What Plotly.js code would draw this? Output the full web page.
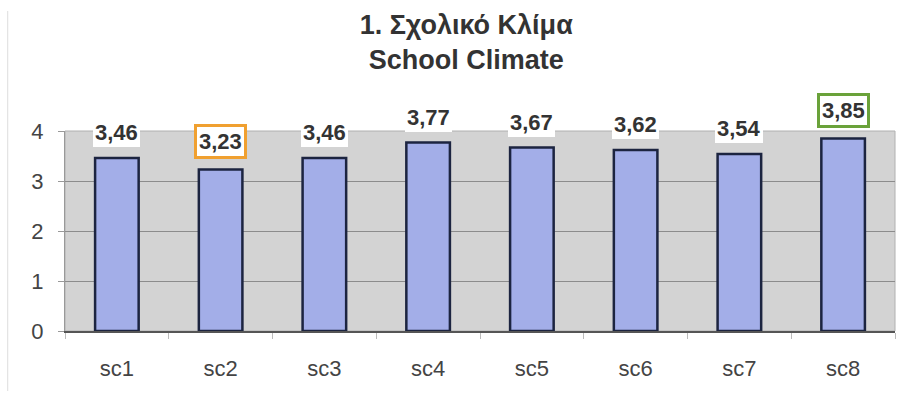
<!DOCTYPE html>
<html>
<head>
<meta charset="utf-8">
<script src="https://cdn.plot.ly/plotly-3.0.1.min.js"></script>
<style>html,body{margin:0;padding:0;background:#fff;}</style>
</head>
<body>
<div id="chart" style="width:900px;height:402px;"></div>
<script>
const categories = ['sc1','sc2','sc3','sc4','sc5','sc6','sc7','sc8'];
const values = [3.46, 3.23, 3.46, 3.77, 3.67, 3.62, 3.54, 3.85];
const labelBorders = ['', '#f0a030', '', '', '', '', '', '#6aa23a'];
const yTicks = [0, 1, 2, 3, 4];

const FONT = 'Liberation Sans, Arial, sans-serif';

const trace = {
  type: 'bar',
  x: categories,
  y: values,
  width: 0.42,
  marker: {color: '#a3aee8', line: {color: '#1c2440', width: 2.5}},
  hoverinfo: 'skip'
};

const annotations = categories.map((c, i) => ({
  x: c, y: values[i], xref: 'x', yref: 'y',
  text: values[i].toFixed(2).replace('.', ','),
  showarrow: false,
  yanchor: 'bottom',
  yshift: 11,
  font: {family: FONT, size: 22, color: '#333333', weight: 'bold'},
  bgcolor: '#ffffff',
  bordercolor: labelBorders[i] || 'rgba(0,0,0,0)',
  borderwidth: labelBorders[i] ? 3 : 0,
  borderpad: 2
}));

const layout = {
  width: 900, height: 402,
  margin: {l: 65, r: 5, t: 131, b: 71},
  paper_bgcolor: '#ffffff',
  plot_bgcolor: '#d3d3d3',
  showlegend: false,
  title: {
    text: '<b>1. Σχολικό Κλίμα<br>School Climate</b>',
    font: {family: FONT, size: 27, color: '#333333'},
    x: 0.518, xanchor: 'center', xref: 'container',
    y: 0.915, yanchor: 'top', yref: 'container'
  },
  xaxis: {
    type: 'category',
    tickson: 'boundaries',
    ticks: 'outside', ticklen: 6, tickcolor: '#bbbbbb',
    showline: true, linecolor: '#555555', linewidth: 1.5,
    showgrid: false,
    tickfont: {family: FONT, size: 22, color: '#444444'},
    ticklabelstandoff: 17
  },
  yaxis: {
    range: [0, 4],
    tickvals: yTicks,
    ticks: 'outside', ticklen: 6, tickcolor: '#999999',
    showline: true, linecolor: '#999999', linewidth: 1,
    showgrid: true, gridcolor: '#8c8c8c', gridwidth: 1,
    zeroline: false,
    tickfont: {family: FONT, size: 22, color: '#444444'},
    ticklabelstandoff: 10
  },
  shapes: [
    {type: 'rect', xref: 'paper', yref: 'paper', x0: 0, x1: 1, y0: 0, y1: 1,
     line: {color: '#b0b0b0', width: 1}, fillcolor: 'rgba(0,0,0,0)', layer: 'below'},
    {type: 'line', xref: 'paper', yref: 'paper', x0: -0.069, x1: -0.069, y0: -0.3, y1: 1.6,
     line: {color: '#dddddd', width: 1}}
  ],
  annotations: annotations
};

Plotly.newPlot('chart', [trace], layout, {displayModeBar: false, staticPlot: true});
</script>
</body>
</html>
